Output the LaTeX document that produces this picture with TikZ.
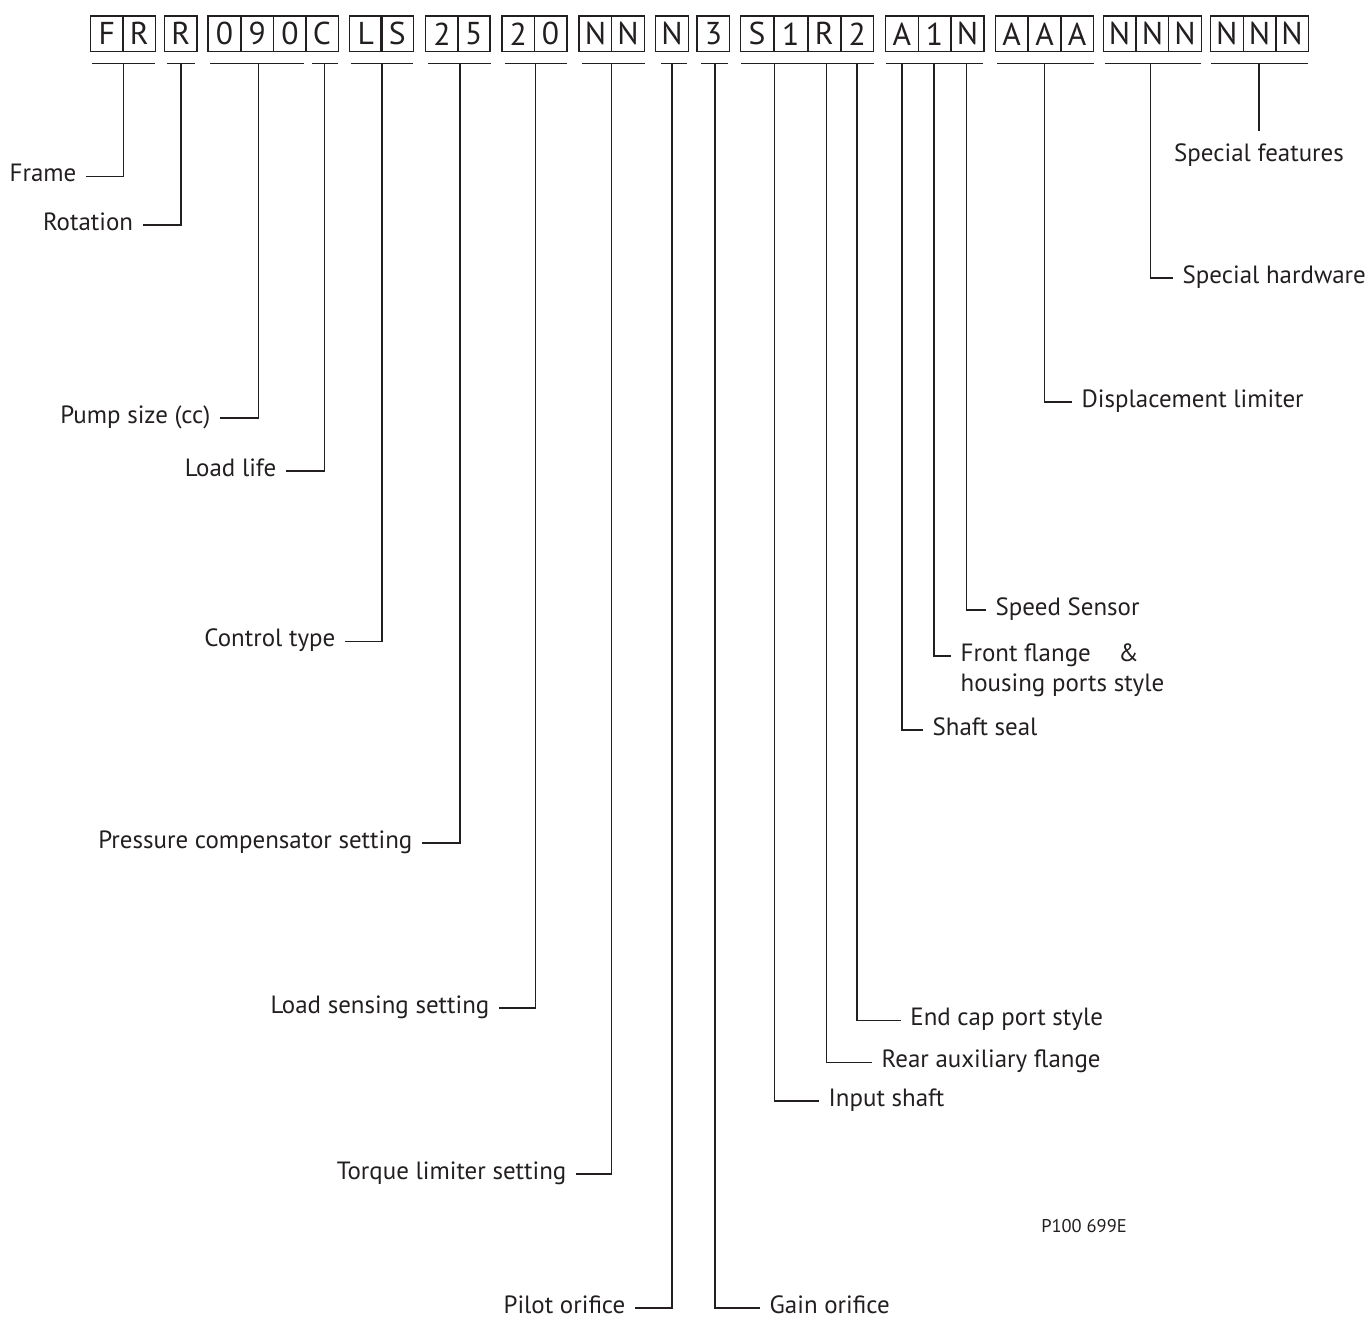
\documentclass[tikz,border=0pt]{standalone}
\usepackage{fontspec}
\setmainfont{PT Sans}
\usepackage{tikz}

\definecolor{ink}{HTML}{231F20}
\tikzset{
  cell/.style={draw=ink, text=ink, line width=0.75pt, minimum width=0.654cm, minimum height=0.714cm, inner sep=0pt, font=\fontsize{18}{18}\selectfont},
  lbl/.style={text=ink, inner xsep=5.3pt, inner ysep=0pt, text height=6.7pt, text depth=1pt, font=\fontsize{14.2}{17}\selectfont},
  lead/.style={draw=ink, line width=0.8pt}
}

\begin{document}
\begin{tikzpicture}[x=0.02cm, y=-0.02cm]
            \useasboundingbox (0,0) rectangle (1371,1320);
            \node[cell] (frm1) at (106.8,33.75) {F};
            \node[cell] (frm2) at (139.2,33.75) {R};
            \node[cell] (rot) at (180.8,33.75) {R};
            \node[cell] (siz1) at (224.4,33.75) {0};
            \node[cell] (siz2) at (257.2,33.75) {9};
            \node[cell] (siz3) at (289.9,33.75) {0};
            \node[cell] (life) at (322,33.75) {C};
            \node[cell] (ctl1) at (365.8,33.75) {L};
            \node[cell] (ctl2) at (397.3,33.75) {S};
            \node[cell] (prs1) at (441.9,33.75) {2};
            \node[cell] (prs2) at (473.7,33.75) {5};
            \node[cell] (lds1) at (518.3,33.75) {2};
            \node[cell] (lds2) at (550.5,33.75) {0};
            \node[cell] (trq1) at (595.4,33.75) {N};
            \node[cell] (trq2) at (627.9,33.75) {N};
            \node[cell] (pil) at (672,33.75) {N};
            \node[cell] (gai) at (713.4,33.75) {3};
            \node[cell] (shf1) at (757,33.75) {S};
            \node[cell] (shf2) at (790.8,33.75) {1};
            \node[cell] (aux) at (824.2,33.75) {R};
            \node[cell] (cap) at (857.2,33.75) {2};
            \node[cell] (seal) at (901.8,33.75) {A};
            \node[cell] (flg) at (934.5,33.75) {1};
            \node[cell] (spd) at (967.5,33.75) {N};
            \node[cell] (dsp1) at (1011.5,33.75) {A};
            \node[cell] (dsp2) at (1044.5,33.75) {A};
            \node[cell] (dsp3) at (1077,33.75) {A};
            \node[cell] (hw1) at (1119.5,33.75) {N};
            \node[cell] (hw2) at (1152.4,33.75) {N};
            \node[cell] (hw3) at (1185.1,33.75) {N};
            \node[cell] (sf1) at (1226.8,33.75) {N};
            \node[cell] (sf2) at (1259.5,33.75) {N};
            \node[cell] (sf3) at (1292,33.75) {N};

            \draw[lead] (92,63.5) -- (155,63.5);
            \draw[lead] (167,63.5) -- (195,63.5);
            \draw[lead] (210,63.5) -- (304,63.5);
            \draw[lead] (312,63.5) -- (338,63.5);
            \draw[lead] (351,63.5) -- (413,63.5);
            \draw[lead] (428,63.5) -- (491,63.5);
            \draw[lead] (505,63.5) -- (567,63.5);
            \draw[lead] (582,63.5) -- (645,63.5);
            \draw[lead] (661,63.5) -- (687,63.5);
            \draw[lead] (701,63.5) -- (728,63.5);
            \draw[lead] (741,63.5) -- (874,63.5);
            \draw[lead] (886,63.5) -- (983,63.5);
            \draw[lead] (997,63.5) -- (1094,63.5);
            \draw[lead] (1105,63.5) -- (1201,63.5);
            \draw[lead] (1211,63.5) -- (1308,63.5);

            \coordinate (t-frame) at (123.6,63.5);
            \coordinate (t-rot) at (181,63.5);
            \coordinate (t-size) at (258.4,63.5);
            \coordinate (t-life) at (324.5,63.5);
            \coordinate (t-ctl) at (382,63.5);
            \coordinate (t-prs) at (460,63.5);
            \coordinate (t-lds) at (535.5,63.5);
            \coordinate (t-trq) at (611.5,63.5);
            \coordinate (t-pil) at (672,63.5);
            \coordinate (t-gai) at (715,63.5);
            \coordinate (t-shf) at (774.5,63.5);
            \coordinate (t-aux) at (826.5,63.5);
            \coordinate (t-cap) at (857,63.5);
            \coordinate (t-seal) at (902,63.5);
            \coordinate (t-flg) at (934,63.5);
            \coordinate (t-spd) at (966.5,63.5);
            \coordinate (t-dsp) at (1044.5,63.5);
            \coordinate (t-hw) at (1150.5,63.5);
            \coordinate (t-sf) at (1259,63.5);

            \node[lbl, anchor=east] (frame) at (86,176.7) {Frame};
            \node[lbl, anchor=east] (rotation) at (142.7,225) {Rotation};
            \node[lbl, anchor=east] (pumpsize) at (220,418) {Pump size (cc)};
            \node[lbl, anchor=east] (loadlife) at (286,471) {Load life};
            \node[lbl, anchor=east] (control) at (345,641.7) {Control type};
            \node[lbl, anchor=east] (pressure) at (422,843) {Pressure compensator setting};
            \node[lbl, anchor=east] (loadsense) at (499,1008) {Load sensing setting};
            \node[lbl, anchor=east] (torque) at (576,1174) {Torque limiter setting};
            \node[lbl, anchor=east] (pilot) at (635,1308) {Pilot orifice};
            \node[lbl, anchor=west] (gain) at (760,1308) {Gain orifice};
            \node[lbl, anchor=west] (input) at (819,1101) {Input shaft};
            \node[lbl, anchor=west] (rear) at (872,1062.3) {Rear auxiliary flange};
            \node[lbl, anchor=west] (endcap) at (900.7,1020.7) {End cap port style};
            \node[lbl, anchor=west] (shaftseal) at (923,730) {Shaft seal};
            \node[lbl, anchor=west] (front) at (951,656) {Front flange\hspace{1.1em}\&};
            \node[lbl, anchor=west] (housing) at (951,686) {housing ports style};
            \node[lbl, anchor=west] (speed) at (986,610) {Speed Sensor};
            \node[lbl, anchor=west] (displace) at (1072,402) {Displacement limiter};
            \node[lbl, anchor=west] (hardware) at (1173,278) {Special hardware};
            \node[lbl, anchor=base, inner ysep=10.3pt] (features) at (1259,161.7) {Special features};
            \node[text=ink, font=\fontsize{10.5}{12}\selectfont] (partno) at (1084,1225.7) {P100 699E};

            \draw[lead] (t-frame) |- (frame);
            \draw[lead] (t-rot) |- (rotation);
            \draw[lead] (t-size) |- (pumpsize);
            \draw[lead] (t-life) |- (loadlife);
            \draw[lead] (t-ctl) |- (control);
            \draw[lead] (t-prs) |- (pressure);
            \draw[lead] (t-lds) |- (loadsense);
            \draw[lead] (t-trq) |- (torque);
            \draw[lead] (t-pil) |- (pilot);
            \draw[lead] (t-gai) |- (gain);
            \draw[lead] (t-shf) |- (input);
            \draw[lead] (t-aux) |- (rear);
            \draw[lead] (t-cap) |- (endcap);
            \draw[lead] (t-seal) |- (shaftseal);
            \draw[lead] (t-flg) |- (front);
            \draw[lead] (t-spd) |- (speed);
            \draw[lead] (t-dsp) |- (displace);
            \draw[lead] (t-hw) |- (hardware);
            \draw[lead] (t-sf) -- (features);
        \end{tikzpicture}
\end{document}
